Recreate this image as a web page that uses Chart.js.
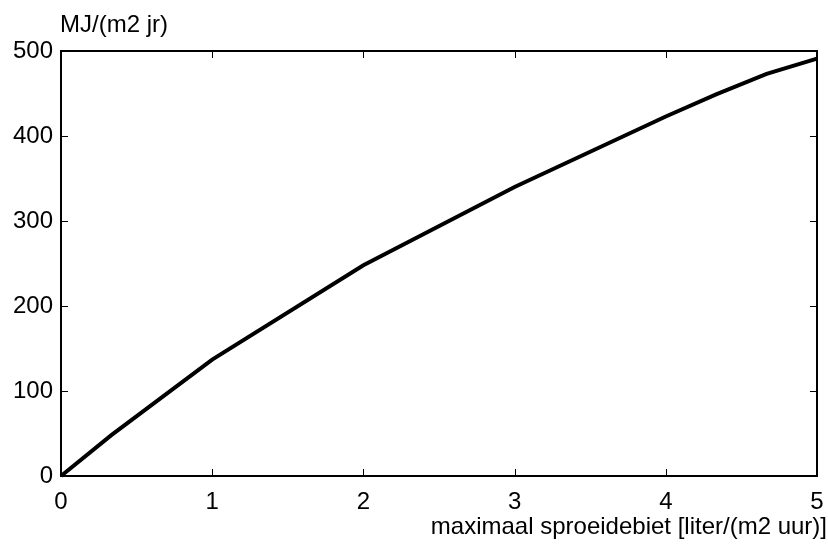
<!DOCTYPE html>
<html>
<head>
<meta charset="utf-8">
<script src="https://cdn.jsdelivr.net/npm/chart.js@4/dist/chart.umd.min.js"></script>
<style>
  html, body { margin: 0; padding: 0; background: #fff; }
  #wrap { width: 828px; height: 544px; }
</style>
</head>
<body>
<div id="wrap"><canvas id="energyChart" width="828" height="544"></canvas></div>
<script>
// sproeidebiet (liter/(m2 uur)) tegen energie (MJ/(m2 jr))
const flowRates = [0, 0.333, 1, 2, 3, 4, 4.333, 4.667, 5];
const energy = [0, 48, 137, 248, 340, 423, 449, 473, 491];
const xTicks = [0, 1, 2, 3, 4, 5];
const yTicks = [0, 100, 200, 300, 400, 500];
const yLabel = 'MJ/(m2 jr)';
const xLabel = 'maximaal sproeidebiet [liter/(m2 uur)]';

const FONT = '"Liberation Sans", Arial, sans-serif';

// box round the plot with inward ticks on all four sides, plus axis labels
const boxPlugin = {
  id: 'box',
  afterDatasetsDraw(chart) {
    const { ctx, chartArea: a, scales } = chart;
    ctx.save();
    ctx.strokeStyle = '#000';
    ctx.lineWidth = 1;
    const len = 7;
    ctx.beginPath();
    xTicks.forEach(v => {
      const px = Math.round(scales.x.getPixelForValue(v)) + 0.5;
      ctx.moveTo(px, a.bottom); ctx.lineTo(px, a.bottom - len);
      ctx.moveTo(px, a.top); ctx.lineTo(px, a.top + len);
    });
    yTicks.forEach(v => {
      const py = Math.round(scales.y.getPixelForValue(v)) + 0.5;
      ctx.moveTo(a.left, py); ctx.lineTo(a.left + len, py);
      ctx.moveTo(a.right, py); ctx.lineTo(a.right - len, py);
    });
    ctx.stroke();
    ctx.lineWidth = 2;
    ctx.strokeRect(a.left, a.top, a.right - a.left, a.bottom - a.top);

    ctx.fillStyle = '#000';
    ctx.font = '24px ' + FONT;
    ctx.textBaseline = 'middle';
    ctx.textAlign = 'left';
    ctx.fillText(yLabel, a.left - 1, 25);
    ctx.textAlign = 'right';
    ctx.fillText(xLabel, 827, 527);
    ctx.restore();
  }
};

new Chart(document.getElementById('energyChart'), {
  type: 'scatter',
  data: {
    datasets: [{
      data: flowRates.map((x, i) => ({ x, y: energy[i] })),
      showLine: true,
      borderColor: '#000',
      borderWidth: 4,
      pointRadius: 0,
      tension: 0,
      clip: false
    }]
  },
  options: {
    responsive: false,
    animation: false,
    layout: { padding: { top: 51, right: 11, left: 0, bottom: 0 } },
    plugins: { legend: { display: false }, tooltip: { enabled: false } },
    scales: {
      x: {
        type: 'linear',
        min: 0, max: 5,
        afterBuildTicks: s => { s.ticks = xTicks.map(value => ({ value })); },
        afterFit: s => { s.height = 68; s.paddingLeft = 0; s.paddingRight = 0; },
        grid: { display: false, drawTicks: false },
        border: { display: false },
        ticks: { color: '#000', padding: 12, maxRotation: 0, font: { family: FONT, size: 24 } }
      },
      y: {
        min: 0, max: 500,
        afterBuildTicks: s => { s.ticks = yTicks.map(value => ({ value })); },
        afterFit: s => { s.width = 61; s.paddingTop = 0; s.paddingBottom = 0; },
        grid: { display: false, drawTicks: false },
        border: { display: false },
        ticks: { color: '#000', padding: 8, font: { family: FONT, size: 24 } }
      }
    }
  },
  plugins: [boxPlugin]
});
</script>
</body>
</html>
